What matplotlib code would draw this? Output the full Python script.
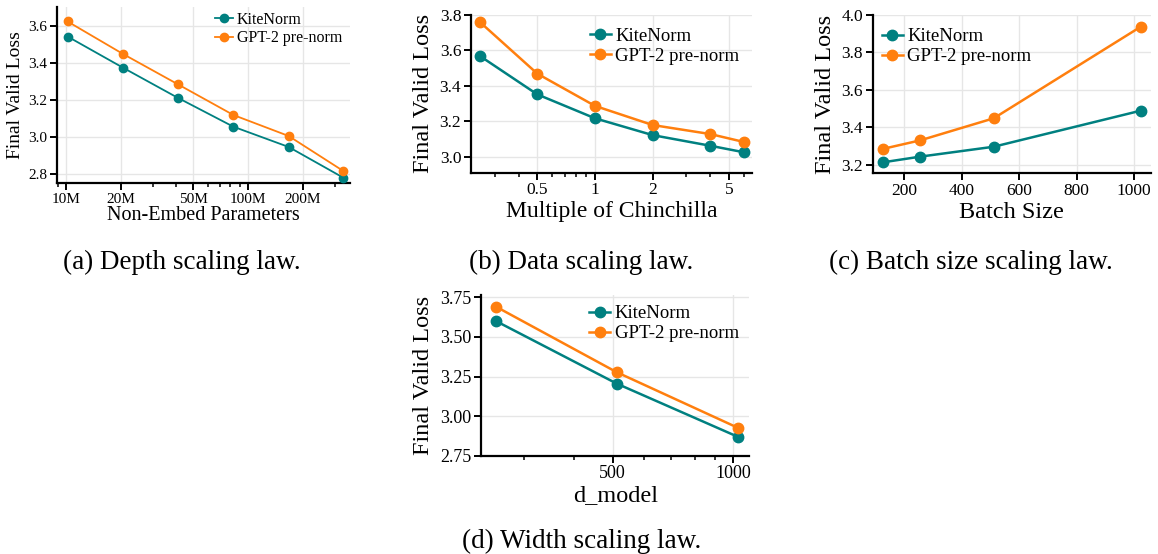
import matplotlib
matplotlib.use("Agg")
import matplotlib.pyplot as plt
from matplotlib.ticker import FixedLocator, FixedFormatter, NullFormatter, LogLocator, FormatStrFormatter

plt.rcParams['font.family'] = ['Liberation Serif', 'DejaVu Serif']
plt.rcParams['mathtext.fontset'] = 'stix'

# ---- data ----
depth_params = [10.2e6, 20.5e6, 41e6, 83e6, 167e6, 333e6]
depth_kite = [3.541, 3.374, 3.212, 3.056, 2.947, 2.782]
depth_gpt2 = [3.622, 3.448, 3.285, 3.119, 3.006, 2.818]

data_mult = [0.25, 0.5, 1, 2, 4, 6]
data_kite = [3.570, 3.352, 3.217, 3.122, 3.062, 3.025]
data_gpt2 = [3.762, 3.469, 3.287, 3.179, 3.128, 3.083]

batch_sizes = [128, 256, 512, 1024]
batch_kite = [3.213, 3.243, 3.296, 3.489]
batch_gpt2 = [3.285, 3.330, 3.448, 3.938]

d_model = [256, 512, 1024]
width_kite = [3.600, 3.205, 2.870]
width_gpt2 = [3.691, 3.277, 2.927]

series_names = ["KiteNorm", "GPT-2 pre-norm"]
captions = ["(a) Depth scaling law.", "(b) Data scaling law.",
            "(c) Batch size scaling law.", "(d) Width scaling law."]

a_xticks = [1e7, 2e7, 5e7, 1e8, 2e8]
a_xlabels = ["10M", "20M", "50M", "100M", "200M"]
b_xticks = [0.5, 1, 2, 5]
b_xlabels = ["0.5", "1", "2", "5"]
c_xticks = [200, 400, 600, 800, 1000]
d_xticks = [500, 1000]
d_xlabels = ["500", "1000"]

TEAL = "#008080"
ORANGE = "#ff7f0e"

W, H = 1158, 554
fig = plt.figure(figsize=(W / 100, H / 100), dpi=100)


def add_ax(left, top, right, bottom):
    return fig.add_axes([left / W, 1 - bottom / H, (right - left) / W, (bottom - top) / H])


def style(ax, tick_fs):
    for s in ["top", "right"]:
        ax.spines[s].set_visible(False)
    for s in ["left", "bottom"]:
        ax.spines[s].set_linewidth(1.6)
        ax.spines[s].set_color("black")
    ax.grid(True, which="major", color="#e6e6e6", linewidth=1.0)
    ax.set_axisbelow(True)
    ax.tick_params(which="major", direction="out", length=5, width=1.4, labelsize=tick_fs, pad=2)
    ax.tick_params(which="minor", direction="out", length=3.2, width=1.1)
    ax.tick_params(axis="y", which="minor", left=False)


def plot_pair(ax, x, y1, y2, lw, ms, leg_fs, loc, anchor):
    ax.plot(x, y1, color=TEAL, lw=lw, marker="o", ms=ms, label=series_names[0], zorder=3)
    ax.plot(x, y2, color=ORANGE, lw=lw, marker="o", ms=ms, label=series_names[1], zorder=3)
    ax.legend(loc=loc, bbox_to_anchor=anchor, frameon=False, fontsize=leg_fs,
              handlelength=1.1, handletextpad=0.25, labelspacing=0.15, borderpad=0.2,
              borderaxespad=0)


# (a) depth
ax = add_ax(57, 7, 350, 183)
style(ax, 11)
plot_pair(ax, depth_params, depth_kite, depth_gpt2, 1.3, 6, 11.5, "upper left", (0.53, 0.99))
ax.set_xscale("log")
ax.set_xlim(8.92e6, 3.63e8)
ax.set_ylim(2.753, 3.70)
ax.xaxis.set_major_locator(FixedLocator(a_xticks))
ax.xaxis.set_major_formatter(FixedFormatter(a_xlabels))
ax.xaxis.set_minor_locator(LogLocator(subs="auto"))
ax.xaxis.set_minor_formatter(NullFormatter())
ax.set_yticks([2.8, 3.0, 3.2, 3.4, 3.6])
ax.yaxis.set_major_formatter(FormatStrFormatter("%.1f"))
ax.set_xlabel("Non-Embed Parameters", fontsize=14.5, labelpad=0)
ax.set_ylabel("Final Valid Loss", fontsize=14, labelpad=3)

# (b) data
ax = add_ax(471, 14.5, 752, 172.7)
style(ax, 12.5)
plot_pair(ax, data_mult, data_kite, data_gpt2, 1.8, 7.5, 13.5, "upper left", (0.41, 0.94))
ax.set_xscale("log")
ax.set_xlim(0.2255, 6.59)
ax.set_ylim(2.91, 3.803)
ax.xaxis.set_major_locator(FixedLocator(b_xticks))
ax.xaxis.set_major_formatter(FixedFormatter(b_xlabels))
ax.xaxis.set_minor_locator(LogLocator(subs="auto"))
ax.xaxis.set_minor_formatter(NullFormatter())
ax.set_yticks([3.0, 3.2, 3.4, 3.6, 3.8])
ax.yaxis.set_major_formatter(FormatStrFormatter("%.1f"))
ax.set_xlabel("Multiple of Chinchilla", fontsize=17, labelpad=2)
ax.set_ylabel("Final Valid Loss", fontsize=17.5, labelpad=4)

# (c) batch size
ax = add_ax(872.7, 15, 1151, 173.3)
style(ax, 12.5)
plot_pair(ax, batch_sizes, batch_kite, batch_gpt2, 1.8, 7.5, 13.5, "upper left", (0.02, 0.94))
ax.set_xlim(91, 1059)
ax.set_ylim(3.154, 4.0)
ax.set_xticks(c_xticks)
ax.set_yticks([3.2, 3.4, 3.6, 3.8, 4.0])
ax.yaxis.set_major_formatter(FormatStrFormatter("%.1f"))
ax.set_xlabel("Batch Size", fontsize=17.5, labelpad=2)
ax.set_ylabel("Final Valid Loss", fontsize=17.5, labelpad=4)

# (d) width
ax = add_ax(481, 295, 749.3, 455.7)
style(ax, 13)
plot_pair(ax, d_model, width_kite, width_gpt2, 1.8, 7.5, 13.5, "upper left", (0.39, 0.96))
ax.set_xscale("log")
ax.set_xlim(234.8, 1095)
ax.set_ylim(2.75, 3.765)
ax.xaxis.set_major_locator(FixedLocator(d_xticks))
ax.xaxis.set_major_formatter(FixedFormatter(d_xlabels))
ax.xaxis.set_minor_locator(LogLocator(subs="auto"))
ax.xaxis.set_minor_formatter(NullFormatter())
ax.set_yticks([2.75, 3.0, 3.25, 3.5, 3.75])
ax.yaxis.set_major_formatter(FormatStrFormatter("%.2f"))
ax.set_xlabel("d_model", fontsize=17.5, labelpad=2)
ax.set_ylabel("Final Valid Loss", fontsize=17.5, labelpad=4)

# captions
cap_pos = [(182, 262), (581, 262), (971, 262), (582, 541)]
for (cx, cy), txt in zip(cap_pos, captions):
    fig.text(cx / W, 1 - cy / H, txt, ha="center", va="center", fontsize=19.5)

fig.savefig("out.png", dpi=100)
